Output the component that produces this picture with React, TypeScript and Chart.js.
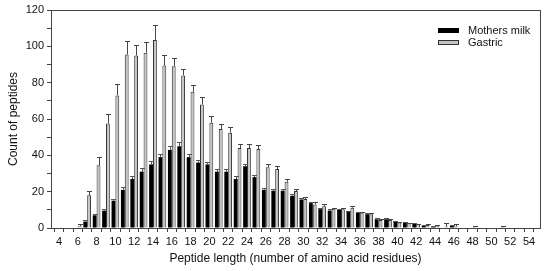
import React, { useEffect, useRef } from "react";
import { Chart, registerables } from "chart.js";

Chart.register(...registerables);

const lengths = [4,5,6,7,8,9,10,11,12,13,14,15,16,17,18,19,20,21,22,23,24,25,26,27,28,29,30,31,32,33,34,35,36,37,38,39,40,41,42,43,44,45,46,47,48,49,50,51,52,53,54];

const mothersMilk = [0,0,0,3.5,7,9.5,15,21,27,31,35,39,43,45,39,36,35,31,31,27,34,28,21,20.5,20.5,17.7,15.7,13.7,10.4,9.6,10,8.9,8.3,7.6,4.8,4.8,3.7,2.9,2.2,1.3,0.8,0,1.2,0,0,0,0,0,0,0,0];
const mothersMilkErr = [0,0,0,0.8,0.6,1,1.2,1.5,1.5,1.8,1.8,2,2.2,2.5,1.5,1.5,1.5,1.5,1.5,1.5,1.5,1.2,1,1,1,1,1,0.8,0.8,0.6,0.6,0.6,0.5,0.5,0.5,0.5,0.4,0.4,0.3,0.3,0.3,0,0.3,0,0,0,0,0,0,0,0];

const gastric = [0,0,1,18,34.5,57.5,73,95.5,95,96.5,103.5,89.5,89,84,75,68,58,54.5,52.5,44,44,43.5,33.5,32.5,25.5,20.3,16,13,12,10.6,10.3,11.2,8.5,7.6,4.4,4.4,3,2.6,2,1.7,1.3,0.8,1,0,0.6,0,0,0.6,0,0,0];
const gastricErr = [0,0,1,2.5,4.5,5.5,6.5,7.5,6,6,8,5.5,4.5,3.5,3.5,4,3.5,3,3,2,2,2,1.5,1.8,1.5,1.2,1,1.5,1.2,0.4,0.5,0.8,0.5,0.4,0.8,0.6,0.5,0.4,0.4,0.3,0.4,2,1,0,0.3,0,0,0.3,0,0,0];

const yTicks = [0,20,40,60,80,100,120];

const FONT = "'Liberation Sans', Arial, sans-serif";

const errorBarPlugin = {
  id: "errorBars",
  afterDatasetsDraw(chart: any) {
    const ctx = chart.ctx;
    const yScale = chart.scales.y;
    const errs = [mothersMilkErr, gastricErr];
    const colors = ["#555", "#444"];
    chart.data.datasets.forEach((ds: any, di: number) => {
      const meta = chart.getDatasetMeta(di);
      meta.data.forEach((bar: any, i: number) => {
        const v = ds.data[i].y;
        const e = errs[di][i];
        if (!e) return;
        const x = bar.x;
        const y0 = yScale.getPixelForValue(v);
        const y1 = yScale.getPixelForValue(v + e);
        ctx.save();
        ctx.strokeStyle = colors[di];
        ctx.lineWidth = 1;
        ctx.beginPath();
        ctx.moveTo(Math.round(x) + 0.5, y0);
        ctx.lineTo(Math.round(x) + 0.5, Math.round(y1) + 0.5);
        ctx.moveTo(Math.round(x) - 2, Math.round(y1) + 0.5);
        ctx.lineTo(Math.round(x) + 3, Math.round(y1) + 0.5);
        ctx.stroke();
        ctx.restore();
      });
    });
  },
};

const framePlugin = {
  id: "frame",
  afterDraw(chart: any) {
    const { ctx, chartArea } = chart;
    ctx.save();
    ctx.strokeStyle = "#444";
    ctx.lineWidth = 1;
    ctx.strokeRect(
      Math.round(chartArea.left) + 0.5,
      Math.round(chartArea.top) + 0.5,
      Math.round(chartArea.right - chartArea.left),
      Math.round(chartArea.bottom - chartArea.top)
    );
    // legend
    const items = [
      { label: "Mothers milk", fill: "#000", stroke: "#000" },
      { label: "Gastric", fill: "#c4c4c4", stroke: "#333" },
    ];
    ctx.font = `11px ${FONT}`;
    ctx.textBaseline = "middle";
    items.forEach((it, i) => {
      const cy = 30.5 + i * 12;
      ctx.fillStyle = it.fill;
      ctx.fillRect(438, cy - 2.5, 21, 5);
      ctx.strokeStyle = it.stroke;
      ctx.strokeRect(438.5, cy - 2.5 + 0.5, 20, 4);
      ctx.fillStyle = "#111";
      ctx.fillText(it.label, 468, cy + 0.5);
    });
    ctx.restore();
  },
};

export default function App() {
  const ref = useRef<HTMLCanvasElement | null>(null);
  useEffect(() => {
    document.body.style.margin = "0";
    const canvas = ref.current!;
    const chart = new Chart(canvas, {
      type: "bar",
      data: {
        datasets: [
          {
            label: "Mothers milk",
            data: lengths.map((x, i) => ({ x, y: mothersMilk[i] })),
            backgroundColor: "#000",
            borderWidth: 0,
            categoryPercentage: 0.82,
            barPercentage: 1.0,
          },
          {
            label: "Gastric",
            data: lengths.map((x, i) => ({ x, y: gastric[i] })),
            backgroundColor: "#c4c4c4",
            borderColor: "#333",
            borderWidth: 1,
            categoryPercentage: 0.82,
            barPercentage: 1.0,
          },
        ] as any,
      },
      options: {
        animation: false,
        responsive: false,
        maintainAspectRatio: false,
        layout: { padding: { left: 0, right: 10, top: 10, bottom: 0 } },
        plugins: { legend: { display: false }, tooltip: { enabled: false } },
        scales: {
          x: {
            type: "linear",
            min: 3.15,
            max: 55.17,
            offset: false,
            grid: { drawOnChartArea: false, drawTicks: true, tickLength: 4, color: "#444" },
            border: { display: true, color: "#444" },
            afterBuildTicks: (scale: any) => {
              scale.ticks = lengths.map((v) => ({ value: v }));
            },
            afterFit: (scale: any) => {
              scale.height = 43;
            },
            ticks: {
              autoSkip: false,
              maxRotation: 0,
              padding: 3,
              color: "#111",
              font: { family: FONT, size: 11 },
              callback: (v: any) => (Number(v) % 2 === 0 ? String(v) : ""),
            },
            title: {
              display: true,
              text: "Peptide length (number of amino acid residues)",
              color: "#111",
              font: { family: FONT, size: 12 },
              padding: { top: 2, bottom: 5 },
            },
          },
          y: {
            min: 0,
            max: 120,
            grid: { drawOnChartArea: false, drawTicks: true, tickLength: 4, color: "#444" },
            border: { display: true, color: "#444" },
            afterBuildTicks: (scale: any) => {
              const t: any[] = [];
              for (let v = 0; v <= 120; v += 10) t.push({ value: v });
              scale.ticks = t;
            },
            afterFit: (scale: any) => {
              scale.width = 51;
            },
            ticks: {
              autoSkip: false,
              padding: 3,
              color: "#111",
              font: { family: FONT, size: 11 },
              callback: (v: any) => (yTicks.includes(Number(v)) ? String(v) : ""),
            },
            title: {
              display: true,
              text: "Count of peptides",
              color: "#111",
              font: { family: FONT, size: 12 },
              padding: { top: 6, bottom: 2 },
            },
          },
        },
      } as any,
      plugins: [errorBarPlugin, framePlugin],
    });
    return () => chart.destroy();
  }, []);
  return (
    <div style={{ position: "absolute", left: 0, top: 0, width: 550, height: 271 }}>
      <canvas ref={ref} width={550} height={271} style={{ width: 550, height: 271 }} />
    </div>
  );
}
